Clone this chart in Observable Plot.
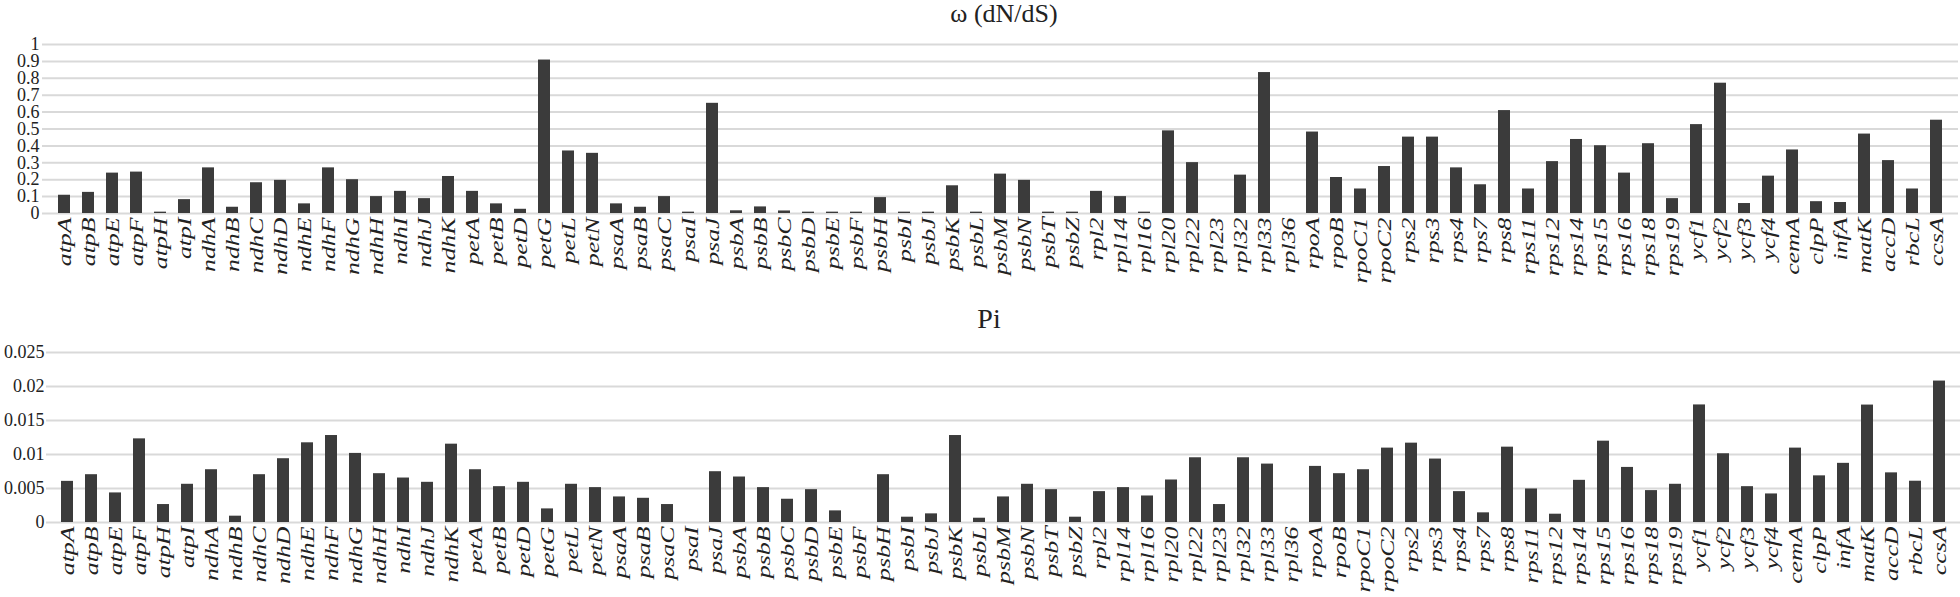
<!DOCTYPE html>
<html><head><meta charset="utf-8">
<script src="https://cdn.jsdelivr.net/npm/d3@7"></script>
<script src="https://cdn.jsdelivr.net/npm/@observablehq/plot@0.6"></script>
<style>
body{margin:0;background:#fff;}
#wrap{position:relative;width:1960px;height:597px;overflow:hidden;font-family:"Liberation Serif","Times New Roman",Times,"DejaVu Serif","Noto Serif",serif;color:#222;}
.title{position:absolute;width:1000px;text-align:center;line-height:1.15;white-space:nowrap;}
.chart{position:absolute;left:0;}
</style></head><body>
<div id="wrap">
<div class="chart" id="c1" style="top:0px"></div>
<div class="chart" id="c2" style="top:300px"></div>
<div class="title" id="t1" style="top:-1px;left:504px;font-size:26px"></div>
<div class="title" id="t2" style="top:303px;left:489px;font-size:28px"></div>
</div>
<script>
const genes = ["atpA","atpB","atpE","atpF","atpH","atpI","ndhA","ndhB","ndhC","ndhD","ndhE","ndhF","ndhG","ndhH","ndhI","ndhJ","ndhK","petA","petB","petD","petG","petL","petN","psaA","psaB","psaC","psaI","psaJ","psbA","psbB","psbC","psbD","psbE","psbF","psbH","psbI","psbJ","psbK","psbL","psbM","psbN","psbT","psbZ","rpl2","rpl14","rpl16","rpl20","rpl22","rpl23","rpl32","rpl33","rpl36","rpoA","rpoB","rpoC1","rpoC2","rps2","rps3","rps4","rps7","rps8","rps11","rps12","rps14","rps15","rps16","rps18","rps19","ycf1","ycf2","ycf3","ycf4","cemA","clpP","infA","matK","accD","rbcL","ccsA"];

const omega = [0.108,0.125,0.239,0.245,0.008,0.082,
  0.27,0.037,0.182,0.196,0.057,0.27,0.2,0.1,0.131,0.088,0.219,
  0.131,0.057,0.025,0.908,0.37,0.356,
  0.057,0.037,0.1,0.008,0.652,
  0.016,0.039,0.015,0.008,0.008,0.008,0.094,0.008,0.008,0.164,0.008,0.233,0.196,0.008,0.008,
  0.131,0.1,0.008,0.489,0.301,0,0.227,0.834,0,
  0.482,0.213,0.145,0.278,
  0.452,0.452,0.27,0.17,0.609,0.145,0.307,0.438,0.401,0.239,0.413,0.088,
  0.526,0.771,0.059,0.221,
  0.376,0.07,0.065,0.47,0.313,0.145,0.552];

const pi = [0.00605,0.00703,0.00435,0.0123,0.00264,0.00562,
  0.00776,0.00093,0.00703,0.00938,0.01172,0.01279,0.01016,0.00718,0.00654,0.00591,0.01152,
  0.00776,0.00527,0.00591,0.002,0.00562,0.00513,
  0.00376,0.00356,0.00264,0,0.00747,
  0.00669,0.00513,0.00342,0.00483,0.00171,0,0.00703,0.00078,0.00127,0.01279,0.00063,0.00376,0.00562,0.00483,0.00078,
  0.00454,0.00513,0.0039,0.00625,0.00952,0.00264,0.00952,0.00859,0,
  0.00825,0.00718,0.00776,0.01094,
  0.01167,0.00933,0.00454,0.00142,0.01108,0.00493,0.00122,0.0062,0.01196,0.0081,0.00469,0.00562,
  0.01729,0.01011,0.00527,0.0042,
  0.01094,0.00686,0.0087,0.01727,0.0073,0.00607,0.0208];

const omegaTicks = [0,0.1,0.2,0.3,0.4,0.5,0.6,0.7,0.8,0.9,1];
const piTicks = [0,0.005,0.01,0.015,0.02,0.025];
const omegaTitle = "ω (dN/dS)";
const piTitle = "Pi";

const FONT = '"Liberation Serif", "Times New Roman", Times, "DejaVu Serif", "Noto Serif", serif';

function chart(values, ticks, o) {
  const data = genes.map((g, i) => ({gene: g, v: values[i]}));
  const svg = Plot.plot({
    width: 1960, height: o.height,
    marginTop: o.mt, marginBottom: o.mb, marginLeft: o.ml, marginRight: o.mr,
    style: {fontFamily: FONT, fontSize: "18px", color: "#222", background: "transparent"},
    x: {domain: genes, paddingInner: 0.48, paddingOuter: 0.24, axis: null},
    y: {domain: [0, ticks[ticks.length - 1]], axis: null},
    marks: [
      Plot.ruleY(ticks, {stroke: "#d9d9d9", strokeWidth: 2}),
      Plot.barY(data, {x: "gene", y: "v", fill: "#3b3b3b"}),
      Plot.axisY({ticks: ticks, tickSize: 0, tickPadding: o.tp, fontSize: 18, label: null, tickFormat: d3.format("~g")}),
      Plot.axisX({tickSize: 0, tickPadding: 4, tickRotate: -90, fontSize: 19, fontStyle: "italic", label: null})
    ]
  });
  svg.querySelectorAll("text").forEach(t => t.setAttribute("font-family", FONT));
  svg.querySelectorAll('g[aria-label="x-axis tick label"] text').forEach(t => {
    const tr = t.getAttribute("transform") || "";
    t.setAttribute("transform", tr + " scale(1.36,1)");
    t.setAttribute("font-style", "italic");
  });
  return svg;
}

document.getElementById("c1").appendChild(chart(omega, omegaTicks, {height: 300, mt: 44, mb: 87, ml: 42, mr: 2, tp: 3}));
document.getElementById("c2").appendChild(chart(pi, piTicks, {height: 297, mt: 52, mb: 75, ml: 46, mr: 0, tp: 2}));
document.getElementById("t1").textContent = omegaTitle;
document.getElementById("t2").textContent = piTitle;
</script>
</body></html>
